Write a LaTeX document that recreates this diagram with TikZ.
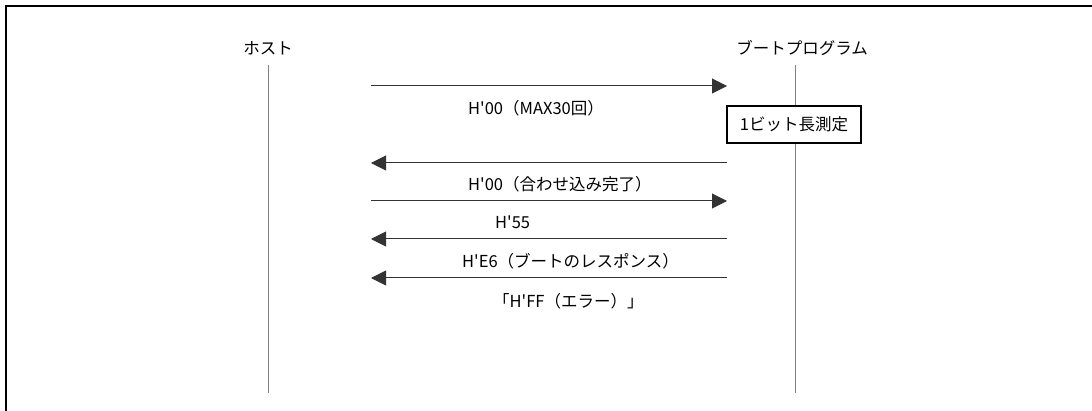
\documentclass[tikz,border=0pt]{standalone}
\usepackage{fontspec}
\setmainfont{Noto Sans CJK JP}
\usetikzlibrary{arrows.meta,positioning}
\newcommand{\hx}{H\textquotesingle}

\begin{document}
\begin{tikzpicture}[
    x=1pt, y=-1pt,
    font=\fontsize{16.5}{19}\selectfont,
    >={Triangle[length=15pt,width=15pt]},
    actor/.style={inner sep=0pt},
    life/.style={draw=black!50, line width=1pt},
    msg/.style={draw=black!80, line width=1pt, ->},
    note/.style={draw, line width=1.5pt, fill=white, minimum width=134pt, minimum height=37pt, inner sep=0pt},
    lbl/.style={anchor=west, inner sep=0pt}
]
\useasboundingbox (0,0) rectangle (1092,411);
% outer frame
\draw[line width=2.5pt] (6,430) -- (6,6) -- (1110,6);

% actors and lifelines
\node[actor] (host) at (268,48) {ホスト};
\node[actor] (boot) at (802,48) {ブートプログラム};
\coordinate (hostEnd) at (268,393);
\coordinate (bootEnd) at (795,393);
\draw[life] (268,65) -- (hostEnd);
\draw[life] (795,65) -- (bootEnd);

% measurement box
\node[note] (meas) at (794,124.5) {1ビット長測定};

% messages
\foreach \n/\y in {m1/86, m2/163, m3/201, m4/239, m5/278} {
    \coordinate (\n h) at (371,\y);
    \coordinate (\n b) at (727,\y);
}
\draw[msg] (m1h) -- (m1b);
\draw[msg] (m2b) -- (m2h);
\draw[msg] (m3h) -- (m3b);
\draw[msg] (m4b) -- (m4h);
\draw[msg] (m5b) -- (m5h);

% message labels
\node[lbl] (l1) at (468,108) {\hx 00（MAX30回）};
\node[lbl] (l2) at (468,184) {\hx 00（合わせ込み完了）};
\node[lbl] (l3) at (495,222) {\hx 55};
\node[lbl] (l4) at (462,261) {\hx E6（ブートのレスポンス）};
\node[lbl] (l5) at (493,301) {「\hx FF（エラー）」};
\end{tikzpicture}
\end{document}
